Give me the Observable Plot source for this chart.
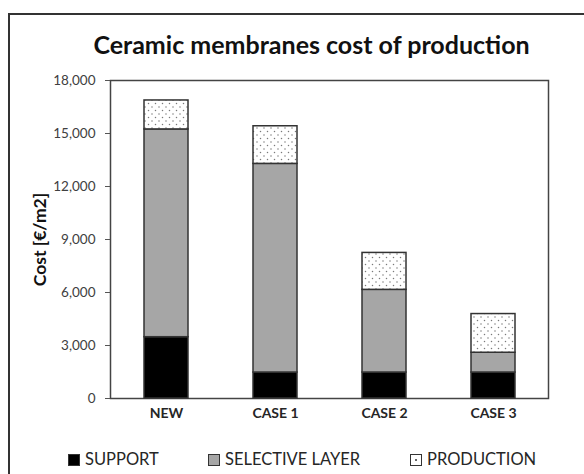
<!DOCTYPE html>
<html>
<head>
<meta charset="utf-8">
<script src="https://cdn.jsdelivr.net/npm/d3@7"></script>
<script src="https://cdn.jsdelivr.net/npm/@observablehq/plot@0.6"></script>
<style>
  html, body { margin: 0; padding: 0; background: #fff; }
  #wrap { position: relative; width: 584px; height: 474px; overflow: hidden; font-family: Lato, "Open Sans", sans-serif; color: #262626; }
  #outer { position: absolute; left: 8px; top: 13px; width: 600px; height: 500px; border: 2px solid #333; box-sizing: border-box; }
  #title { position: absolute; left: 0; width: 623px; top: 29px; text-align: center; font-weight: bold; font-size: 25px; line-height: 30px; color: #111; }
  #chart { position: absolute; left: 0; top: 60px; }
  .leg { position: absolute; top: 449px; font-size: 16.5px; line-height: 20px; white-space: nowrap; }
  .sw { position: absolute; top: 454px; width: 10px; height: 10px; border: 1px solid #333; }
</style>
</head>
<body>
<div id="wrap">
  <div id="outer"></div>
  <div id="title">Ceramic membranes cost of production</div>
  <div id="chart"></div>
  <div id="legend"></div>
</div>
<script>
const categories = ["NEW", "CASE 1", "CASE 2", "CASE 3"];
const seriesNames = ["SUPPORT", "SELECTIVE LAYER", "PRODUCTION"];
const support = [3470, 1470, 1470, 1470];
const selective = [11760, 11810, 4680, 1120];
const production = [1640, 2130, 2090, 2190];
const yTicks = [0, 3000, 6000, 9000, 12000, 15000, 18000];
const seriesFills = ["#000000", "#a6a6a6", "url(#dots)"];

const seriesValues = [support, selective, production];
const rows = [];
categories.forEach((c, i) => {
  seriesNames.forEach((s, j) => rows.push({category: c, series: s, value: seriesValues[j][i]}));
});

const svg = Plot.plot({
  width: 584,
  height: 380,
  marginTop: 20,
  marginBottom: 42,
  marginLeft: 110,
  marginRight: 36,
  style: {fontFamily: "Lato, 'Open Sans', sans-serif", background: "transparent"},
  x: {domain: categories, paddingInner: 0.6, paddingOuter: 0.3, label: null},
  y: {domain: [0, 18000], label: null},
  color: {type: "ordinal", domain: seriesNames, range: seriesFills},
  marks: [
    Plot.frame({stroke: "#444", strokeWidth: 1.5}),
    Plot.barY(rows, {x: "category", y: "value", fill: "series", stroke: "#333", strokeWidth: 1.5}),
    Plot.axisY({ticks: yTicks, tickFormat: d3.format(","), tickSize: 5, tickPadding: 10, fontSize: 13.5, fill: "#404040", stroke: "#555", label: null}),
    Plot.axisX({tickSize: 0, tickPadding: 10, fontSize: 14, fontWeight: "bold", fill: "#262626", label: null}),
    Plot.text(["Cost [€/m2]"], {frameAnchor: "left", textAnchor: "middle", dx: -70, rotate: -90, fontSize: 17.5, fontWeight: "bold", fill: "#111"})
  ]
});

// dotted pattern for PRODUCTION
const ns = "http://www.w3.org/2000/svg";
const defs = document.createElementNS(ns, "defs");
const pat = document.createElementNS(ns, "pattern");
pat.setAttribute("id", "dots");
pat.setAttribute("patternUnits", "userSpaceOnUse");
pat.setAttribute("width", "7");
pat.setAttribute("height", "7");
const bg = document.createElementNS(ns, "rect");
bg.setAttribute("width", "7"); bg.setAttribute("height", "7"); bg.setAttribute("fill", "#fff");
pat.appendChild(bg);
[[1.5, 1.5], [5, 5]].forEach(([cx, cy]) => {
  const c = document.createElementNS(ns, "circle");
  c.setAttribute("cx", cx); c.setAttribute("cy", cy); c.setAttribute("r", "0.75"); c.setAttribute("fill", "#7a7a7a");
  pat.appendChild(c);
});
defs.appendChild(pat);
svg.insertBefore(defs, svg.firstChild);
document.getElementById("chart").appendChild(svg);

// legend
const legendX = [68, 208, 410];
const legend = document.getElementById("legend");
seriesNames.forEach((s, i) => {
  const sw = document.createElement("div");
  sw.className = "sw";
  sw.style.left = legendX[i] + "px";
  if (i === 2) {
    sw.style.background = "#fff";
    sw.innerHTML = '<div style="position:absolute;left:4px;top:4px;width:2px;height:2px;background:#666"></div>';
  } else {
    sw.style.background = seriesFills[i];
  }
  legend.appendChild(sw);
  const t = document.createElement("div");
  t.className = "leg";
  t.style.left = (legendX[i] + 17) + "px";
  t.textContent = s;
  legend.appendChild(t);
});
</script>
</body>
</html>
